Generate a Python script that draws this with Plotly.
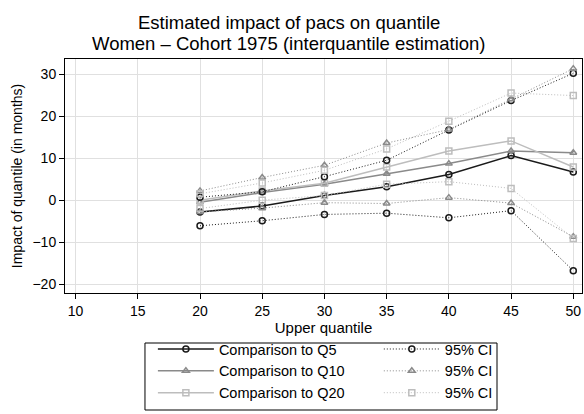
import plotly.graph_objects as go

quantiles = [20, 25, 30, 35, 40, 45, 50]

q5_est = [-2.8, -1.4, 1.1, 3.2, 6.1, 10.6, 6.7]
q5_lo = [-6.1, -4.9, -3.4, -3.1, -4.2, -2.5, -16.8]
q5_hi = [0.7, 2.0, 5.6, 9.5, 16.7, 23.7, 30.2]

q10_est = [-0.5, 1.8, 3.8, 6.3, 8.7, 11.7, 11.3]
q10_lo = [-2.8, -1.9, -0.6, -0.8, 0.6, -0.7, -8.7]
q10_hi = [2.2, 5.4, 8.3, 13.6, 16.8, 24.0, 31.3]

q20_est = [0.0, 2.2, 4.0, 7.9, 11.7, 14.1, 7.9]
q20_lo = [-2.0, 0.0, 1.1, 3.8, 4.4, 2.8, -9.1]
q20_hi = [1.5, 4.1, 7.1, 12.2, 18.8, 25.5, 24.9]

x_ticks = [10, 15, 20, 25, 30, 35, 40, 45, 50]
y_ticks = [-20, -10, 0, 10, 20, 30]

title_lines = ["Estimated impact of pacs on quantile",
               "Women \u2013 Cohort 1975 (interquantile estimation)"]

series = [
    ("Comparison to Q5", q5_est, q5_lo, q5_hi, "#1a1a1a", "circle-open"),
    ("Comparison to Q10", q10_est, q10_lo, q10_hi, "#8a8a8a", "triangle-up-open"),
    ("Comparison to Q20", q20_est, q20_lo, q20_hi, "#bdbdbd", "square-open"),
]

fig = go.Figure()
for name, est, lo, hi, col, sym in series:
    fig.add_trace(go.Scatter(
        x=quantiles, y=est, name=name, mode="lines+markers", legend="legend",
        line=dict(color=col, width=1.5),
        marker=dict(symbol=sym, size=6, color=col, line=dict(width=1.5, color=col)),
    ))
for name, est, lo, hi, col, sym in series:
    fig.add_trace(go.Scatter(
        x=quantiles + [None] + quantiles, y=lo + [None] + hi,
        name="95% CI", mode="lines+markers", connectgaps=False, legend="legend2",
        line=dict(color=col, width=1, dash="1px,2px"),
        marker=dict(symbol=sym, size=6, color=col, line=dict(width=1.5, color=col)),
    ))

font = "Liberation Sans, Arial, sans-serif"
leg_common = dict(
    orientation="v", xanchor="left", yanchor="bottom",
    borderwidth=0, bgcolor="rgba(0,0,0,0)", font=dict(size=14.5), itemwidth=56,
    tracegroupgap=0,
)
fig.update_layout(
    width=584, height=414,
    margin=dict(l=65, r=2, t=59, b=121),
    paper_bgcolor="white", plot_bgcolor="white",
    font=dict(family=font, size=14, color="black"),
    annotations=[
        dict(text=title_lines[0], xref="paper", yref="paper", x=0.434, y=1.158,
             xanchor="center", yanchor="middle", showarrow=False,
             font=dict(size=18.5, family=font, color="black")),
        dict(text=title_lines[1], xref="paper", yref="paper", x=0.434, y=1.068,
             xanchor="center", yanchor="middle", showarrow=False,
             font=dict(size=18.5, family=font, color="black")),
    ],
    shapes=[
        dict(type="rect", xref="paper", yref="paper", x0=0.1547, x1=0.8356,
             y0=-0.5, y1=-0.2137, line=dict(color="black", width=1), fillcolor="rgba(0,0,0,0)"),
    ],
    xaxis=dict(
        range=[9.15, 50.7], tickvals=x_ticks, showgrid=True, gridcolor="#e0e0e0", gridwidth=1.2,
        zeroline=False, showline=True, linecolor="black", linewidth=1, mirror=True,
        ticks="outside", ticklen=5, tickcolor="black",
        title=dict(text="Upper quantile", standoff=4, font=dict(size=15)),
        tickfont=dict(size=14),
    ),
    yaxis=dict(
        range=[-22.1, 33.6], tickvals=y_ticks, showgrid=True, gridcolor="#e0e0e0", gridwidth=1.2,
        zeroline=False, showline=True, linecolor="black", linewidth=1, mirror=True,
        ticks="outside", ticklen=5, tickcolor="black",
        title=dict(text="Impact of quantile (in months)", standoff=6, font=dict(size=14)),
        tickfont=dict(size=14),
    ),
    legend=dict(x=0.170, y=-0.496, **leg_common),
    legend2=dict(x=0.607, y=-0.496, **leg_common),
)

# Remove the browser's default page margin so the 584x414 figure fills the window exactly.
fig.write_html("out.html", config={"displayModeBar": False},
               post_script="document.body.style.margin='0px';")
